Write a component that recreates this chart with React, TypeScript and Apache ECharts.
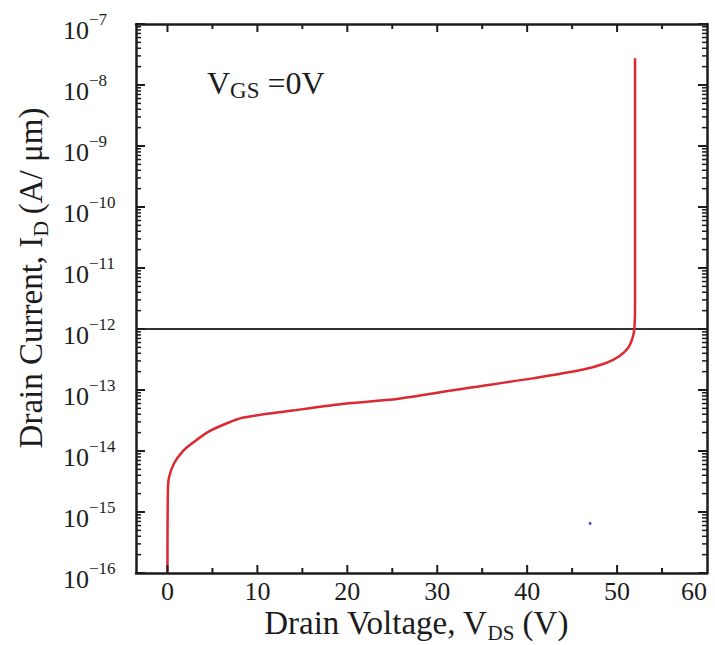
import React, { useEffect, useRef } from 'react';
import * as echarts from 'echarts';

// ---- data ----
const vdsValues = [0, 0.05, 0.19, 0.74, 1.67, 2.78, 4.63, 6.49, 8.33, 13.9, 19.4, 25.7, 33.2, 40.6, 46.1, 48.7, 50.2, 51.3, 51.85, 51.97, 52.0, 52.0];
const idValues = [1e-16, 2.3e-15, 3.8e-15, 6.3e-15, 9.8e-15, 1.35e-14, 2.1e-14, 2.8e-14, 3.5e-14, 4.6e-14, 5.9e-14, 7.2e-14, 1.07e-13, 1.55e-13, 2.14e-13, 2.75e-13, 3.55e-13, 5.1e-13, 8.5e-13, 1.4e-12, 3e-12, 2.75e-8];
const thresholdCurrent = 1e-12;
const strayPoint = [47.0, 6.5e-16];

const X_MIN = -3.5;
const X_MAX = 60;
const Y_MIN = 1e-16;
const Y_MAX = 1e-7;
const xMajorTicks = [0, 10, 20, 30, 40, 50];
const xMinorTicks = [5, 15, 25, 35, 45, 55];
const decadeExponents = [-16, -15, -14, -13, -12, -11, -10, -9, -8, -7];
const minorMultipliers = [2, 3, 4, 5, 6, 7, 8, 9];

const FONT = '"Liberation Serif", "Times New Roman", serif';
const INK = '#1c1c1c';

export default function App() {
  const ref = useRef<HTMLDivElement>(null);

  useEffect(() => {
    if (!ref.current) return;
    const chart = echarts.init(ref.current, null, { renderer: 'svg' });

    const curve = vdsValues.map((v, i) => [v, idValues[i]]);

    const axisLine = () => ({ show: true, onZero: false, lineStyle: { color: INK, width: 2.5 } });

    const yLabelFormatter = (v: number) => {
      const e = Math.log10(v);
      const r = Math.round(e);
      if (Math.abs(e - r) > 1e-6) return '';
      return `{b|10}{s|\u2212${-r}}`;
    };

    const option: any = {
      animation: false,
      backgroundColor: '#ffffff',
      grid: { left: 136, right: 8, top: 24, bottom: 72 },
      xAxis: [
        {
          type: 'value',
          min: X_MIN,
          max: X_MAX,
          splitNumber: 6,
          position: 'bottom',
          axisLine: axisLine(),
          axisTick: { show: false },
          axisLabel: {
            margin: 5,
            fontFamily: FONT,
            fontSize: 26,
            color: INK,
            alignMaxLabel: 'right',
            formatter: (v: number) => (Math.abs(v % 10) < 1e-9 ? String(v) : ''),
          },
          splitLine: { show: false },
        },
        {
          type: 'value',
          min: X_MIN,
          max: X_MAX,
          splitNumber: 6,
          position: 'top',
          axisLine: axisLine(),
          axisTick: { show: false },
          axisLabel: { show: false },
          splitLine: { show: false },
        },
      ],
      yAxis: [
        {
          type: 'log',
          min: Y_MIN,
          max: Y_MAX,
          position: 'left',
          axisLine: axisLine(),
          axisTick: { show: false },
          axisLabel: {
            align: 'left',
            margin: 73,
            formatter: yLabelFormatter,
            rich: {
              b: { fontFamily: FONT, fontSize: 26, color: INK, lineHeight: 26, verticalAlign: 'top', padding: [6, 0, 0, 0] },
              s: { fontFamily: FONT, fontSize: 17, color: INK, lineHeight: 17, verticalAlign: 'top' },
            },
          },
          splitLine: { show: false },
        },
        {
          type: 'log',
          min: Y_MIN,
          max: Y_MAX,
          position: 'right',
          axisLine: axisLine(),
          axisTick: { show: false },
          axisLabel: { show: false },
          splitLine: { show: false },
        },
      ],
      series: [
        {
          type: 'line',
          data: [[X_MIN, thresholdCurrent], [X_MAX, thresholdCurrent]],
          showSymbol: false,
          symbol: 'none',
          lineStyle: { color: '#333333', width: 2 },
          silent: true,
          z: 2,
        },
        {
          type: 'line',
          data: curve,
          showSymbol: false,
          symbol: 'none',
          smooth: 0.3,
          lineStyle: { color: '#dc2830', width: 2.5 },
          z: 3,
        },
        {
          type: 'scatter',
          data: [strayPoint],
          symbolSize: 3,
          itemStyle: { color: '#2a2ab0' },
        },
      ],
    };

    chart.setOption(option);

    // ticks on all four sides, placed through the chart's own scales
    const px = (x: number, y: number) => chart.convertToPixel({ xAxisIndex: 0, yAxisIndex: 0 }, [x, y]) as number[];
    const tick = (x1: number, y1: number, x2: number, y2: number, w: number) => ({
      type: 'line',
      silent: true,
      z: 10,
      shape: { x1, y1, x2, y2 },
      style: { stroke: INK, lineWidth: w },
    });
    const tickEls: any[] = [];
    xMajorTicks.forEach((v) => {
      const b = px(v, Y_MIN);
      const t = px(v, Y_MAX);
      tickEls.push(tick(b[0], b[1], b[0], b[1] - 8, 2));
      tickEls.push(tick(t[0], t[1], t[0], t[1] + 8, 2));
    });
    xMinorTicks.forEach((v) => {
      const b = px(v, Y_MIN);
      const t = px(v, Y_MAX);
      tickEls.push(tick(b[0], b[1], b[0], b[1] - 5, 2));
      tickEls.push(tick(t[0], t[1], t[0], t[1] + 5, 2));
    });
    decadeExponents.forEach((e) => {
      const major = Math.pow(10, e);
      const l = px(X_MIN, major);
      const r = px(X_MAX, major);
      tickEls.push(tick(l[0], l[1], l[0] + 9, l[1], 2));
      tickEls.push(tick(r[0], r[1], r[0] - 9, r[1], 2));
      if (e < -7) {
        minorMultipliers.forEach((m) => {
          const v = m * major;
          const ml = px(X_MIN, v);
          const mr = px(X_MAX, v);
          tickEls.push(tick(ml[0], ml[1], ml[0] + 5, ml[1], 1.5));
          tickEls.push(tick(mr[0], mr[1], mr[0] - 5, mr[1], 1.5));
        });
      }
    });

    const texts: any[] = [
      {
        type: 'text',
        x: 31,
        y: 278,
        rotation: Math.PI / 2,
        style: {
          text: '{b|Drain Current, I}{sub|D}{b|\u2009(A/ \u03bcm)}',
          align: 'center',
          verticalAlign: 'middle',
          rich: {
            b: { fontFamily: FONT, fontSize: 33, fill: INK, lineHeight: 33, verticalAlign: 'top' },
            sub: { fontFamily: FONT, fontSize: 22, fill: INK, lineHeight: 22, verticalAlign: 'top', padding: [15, 0, 0, 0] },
          },
        },
      },
      {
        type: 'text',
        x: 416,
        y: 623,
        style: {
          text: '{b|Drain Voltage, V}{sub|DS}{b| (V)}',
          align: 'center',
          verticalAlign: 'middle',
          rich: {
            b: { fontFamily: FONT, fontSize: 33, fill: INK, lineHeight: 33, verticalAlign: 'top' },
            sub: { fontFamily: FONT, fontSize: 21, fill: INK, lineHeight: 21, verticalAlign: 'top', padding: [16, 0, 0, 0] },
          },
        },
      },
      {
        type: 'text',
        x: 207,
        y: 83,
        style: {
          text: '{b|V}{sub|GS}{b| =0V}',
          align: 'left',
          verticalAlign: 'middle',
          rich: {
            b: { fontFamily: FONT, fontSize: 32, fill: INK, lineHeight: 32, verticalAlign: 'top' },
            sub: { fontFamily: FONT, fontSize: 23, fill: INK, lineHeight: 23, verticalAlign: 'top', padding: [12, 0, 0, 0] },
          },
        },
      },
    ];

    chart.setOption({ graphic: [...texts, ...tickEls] });
    return () => chart.dispose();
  }, []);

  return (
    <div
      ref={ref}
      style={{ position: 'absolute', left: 0, top: 0, width: 715, height: 645, background: '#ffffff' }}
    />
  );
}
